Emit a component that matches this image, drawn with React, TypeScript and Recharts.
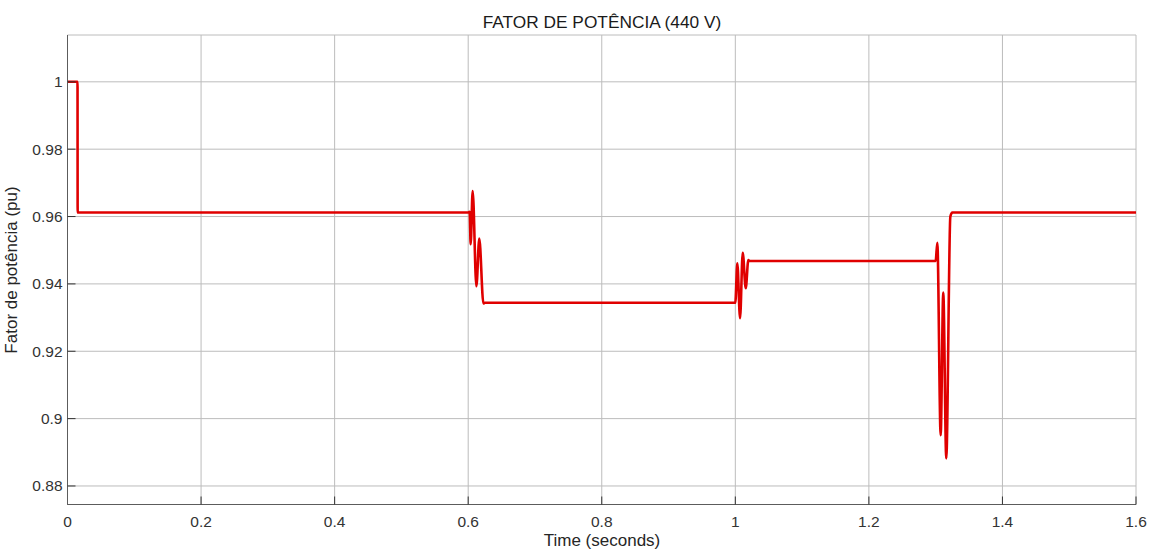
import { CartesianGrid, Line, LineChart, XAxis, YAxis } from "recharts";

// simulation time (s) and power factor (pu) at the breakpoints of the trace
const time = [
  0, 0.015, 0.0152, 0.6, 0.6022, 0.6037, 0.6067, 0.6123, 0.6166, 0.6228, 0.625,
  1.0, 1.003, 1.0071, 1.0111, 1.0156, 1.0195, 1.021, 1.3, 1.3025, 1.3075,
  1.3114, 1.3159, 1.322, 1.325, 1.6,
];
const powerFactor = [
  1, 1, 0.9612, 0.9612, 0.9614, 0.9518, 0.9676, 0.9393, 0.9535, 0.9342, 0.9344,
  0.9344, 0.9461, 0.9298, 0.9492, 0.9387, 0.9471, 0.9468, 0.9468, 0.9522, 0.8951,
  0.9374, 0.8882, 0.96, 0.9612, 0.9612,
];

const xTicks = [0, 0.2, 0.4, 0.6, 0.8, 1, 1.2, 1.4, 1.6];
const yTicks = [0.88, 0.9, 0.92, 0.94, 0.96, 0.98, 1];

const data = time.map((t, i) => ({ t, pf: powerFactor[i] }));

const W = 1150;
const H = 549;
const font = "'Liberation Sans', Arial, Helvetica, sans-serif";
const fmt = (v: number) => String(Number(v.toFixed(2)));
const blank = () => "";

const tickStyle = { fontSize: 15.5, fill: "#333", fontFamily: font };

export default function App() {
  return (
    <div style={{ position: "absolute", left: 0, top: 0, width: W, height: H, background: "#fff" }}>
      <LineChart
        width={W}
        height={H}
        data={data}
        margin={{ top: 35, right: 14, bottom: 14.5, left: 7.5 }}
      >
        <CartesianGrid stroke="#bcbcbc" strokeWidth={1} />
        <XAxis
          dataKey="t"
          type="number"
          domain={[0, 1.6]}
          ticks={xTicks}
          tickFormatter={fmt}
          height={30}
          tickSize={-8}
          tickMargin={19.5}
          tick={tickStyle}
          stroke="#5c5c5c"
          tickLine={{ stroke: "#333" }}
        />
        <XAxis
          xAxisId="top"
          orientation="top"
          dataKey="t"
          type="number"
          domain={[0, 1.6]}
          ticks={xTicks}
          tickFormatter={blank}
          height={0}
          tickSize={-8}
          stroke="#5c5c5c"
          tickLine={{ stroke: "#333" }}
        />
        <YAxis
          type="number"
          domain={[0.8745, 1.0139]}
          ticks={yTicks}
          tickFormatter={fmt}
          width={60}
          tickSize={-8}
          tickMargin={13}
          tick={tickStyle}
          stroke="#5c5c5c"
          tickLine={{ stroke: "#333" }}
          allowDataOverflow
        />
        <YAxis
          yAxisId="right"
          orientation="right"
          type="number"
          domain={[0.8745, 1.0139]}
          ticks={yTicks}
          tickFormatter={blank}
          width={0}
          tickSize={-8}
          stroke="#5c5c5c"
          tickLine={{ stroke: "#333" }}
          allowDataOverflow
        />
        <Line
          type="monotoneX"
          dataKey="pf"
          stroke="#e00000"
          strokeWidth={2.6}
          dot={false}
          activeDot={false}
          isAnimationActive={false}
        />
      </LineChart>
      <svg
        width={W}
        height={H}
        style={{ position: "absolute", left: 0, top: 0, pointerEvents: "none" }}
        fontFamily={font}
      >
        <text x={602} y={28.3} textAnchor="middle" fontSize={17.3} fill="#1a1a1a">
          FATOR DE POTÊNCIA (440 V)
        </text>
        <text x={602} y={545.5} textAnchor="middle" fontSize={17} fill="#262626">
          Time (seconds)
        </text>
        <text
          x={17}
          y={270}
          textAnchor="middle"
          fontSize={17}
          fill="#262626"
          transform="rotate(-90 17 270)"
        >
          Fator de potência (pu)
        </text>
      </svg>
    </div>
  );
}
